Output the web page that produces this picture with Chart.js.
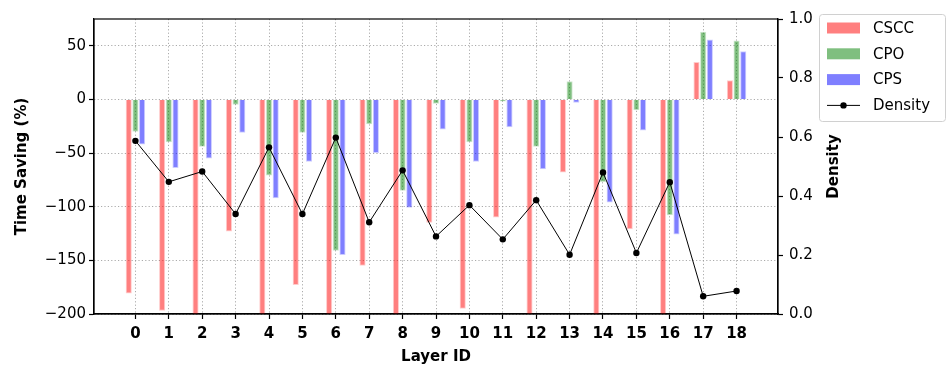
<!DOCTYPE html>
<html lang="en">
<head>
    <meta charset="UTF-8">
    <title>Time Saving per Layer</title>
    <script src="https://cdn.jsdelivr.net/npm/chart.js"></script>
    <style>
        html, body { margin: 0; padding: 0; background: #fff; }
        .chart-container { position: relative; width: 951px; height: 380px; }
    </style>
</head>
<body>
    <div class="chart-container">
        <canvas id="savingChart" width="951" height="380"></canvas>
    </div>

    <script>
        // data (clipped red bars go below -200)
        const layers  = [0, 1, 2, 3, 4, 5, 6, 7, 8, 9, 10, 11, 12, 13, 14, 15, 16, 17, 18];
        const cscc    = [-181, -197, -215, -123, -215, -173, -215, -155, -215, -115, -195, -110, -215, -68, -215, -121, -215, 35, 18];
        const cpo     = [-30, -40, -44, -5, -71, -31, -141, -23, -85, -4, -40, -2, -44, 17, -77, -10, -108, 63, 55];
        const cps     = [-42, -64, -55, -31, -92, -58, -145, -50, -101, -28, -58, -26, -65, -3, -96, -29, -126, 56, 45];
        const density = [0.587, 0.448, 0.483, 0.339, 0.565, 0.339, 0.598, 0.311, 0.487, 0.263, 0.369, 0.253, 0.386, 0.201, 0.480, 0.207, 0.447, 0.060, 0.078];

        const leftTicks  = [-200, -150, -100, -50, 0, 50];
        const rightTicks = [0, 0.2, 0.4, 0.6, 0.8, 1.0];

        const FONT = "'DejaVu Sans', sans-serif";
        const gridColor = 'rgba(150,150,150,0.8)';

        const pts = arr => layers.map((l, i) => ({ x: l, y: arr[i] }));
        const minus = s => String(s).replace('-', '\u2212');

        // full box around the plot, right axis title (reads bottom-up like matplotlib) and legend
        const frameAndLegend = {
            id: 'frameAndLegend',
            afterDraw(chart) {
                const ctx = chart.ctx;
                const a = chart.chartArea;
                ctx.save();
                ctx.strokeStyle = '#000';
                ctx.lineWidth = 1.2;
                ctx.strokeRect(a.left, a.top, a.right - a.left, a.bottom - a.top);

                // right axis title
                ctx.save();
                ctx.translate(834, (a.top + a.bottom) / 2);
                ctx.rotate(-Math.PI / 2);
                ctx.font = 'bold 15px ' + FONT;
                ctx.textAlign = 'center';
                ctx.textBaseline = 'middle';
                ctx.fillStyle = '#000';
                ctx.fillText('Density', 0, 0);
                ctx.restore();

                // legend box
                const bx = 819, by = 14, bw = 126, bh = 107;
                ctx.fillStyle = 'rgba(255,255,255,0.8)';
                ctx.strokeStyle = '#d0d0d0';
                ctx.lineWidth = 1;
                ctx.beginPath();
                ctx.roundRect(bx + 0.5, by + 0.5, bw, bh, 3);
                ctx.fill();
                ctx.stroke();

                ctx.font = '15px ' + FONT;
                ctx.textBaseline = 'middle';
                ctx.textAlign = 'left';
                chart.data.datasets.forEach((ds, i) => {
                    const rowY = 28 + i * 25.8;
                    if (ds.type === 'line') {
                        ctx.strokeStyle = '#000';
                        ctx.lineWidth = 1;
                        ctx.beginPath();
                        ctx.moveTo(827, rowY);
                        ctx.lineTo(860, rowY);
                        ctx.stroke();
                        ctx.fillStyle = '#000';
                        ctx.beginPath();
                        ctx.arc(843.5, rowY, 3.2, 0, Math.PI * 2);
                        ctx.fill();
                    } else {
                        ctx.fillStyle = ds.backgroundColor;
                        ctx.fillRect(827, rowY - 5.5, 33, 11);
                    }
                    ctx.fillStyle = '#000';
                    ctx.fillText(ds.label, 873, rowY + 1);
                });
                ctx.restore();
            }
        };

        const barCommon = {
            type: 'bar',
            yAxisID: 'y',
            order: 1,
            borderWidth: 1,
            categoryPercentage: 0.6,
            barPercentage: 0.92
        };

        const ctx = document.getElementById('savingChart').getContext('2d');
        new Chart(ctx, {
            type: 'bar',
            data: {
                datasets: [
                    Object.assign({}, barCommon, {
                        label: 'CSCC',
                        data: pts(cscc),
                        backgroundColor: 'rgba(255,0,0,0.5)',
                        borderColor: 'rgba(255,0,0,0.2)'
                    }),
                    Object.assign({}, barCommon, {
                        label: 'CPO',
                        data: pts(cpo),
                        backgroundColor: 'rgba(0,128,0,0.5)',
                        borderColor: 'rgba(0,128,0,0.2)'
                    }),
                    Object.assign({}, barCommon, {
                        label: 'CPS',
                        data: pts(cps),
                        backgroundColor: 'rgba(0,0,255,0.5)',
                        borderColor: 'rgba(0,0,255,0.2)'
                    }),
                    {
                        type: 'line',
                        label: 'Density',
                        data: pts(density),
                        yAxisID: 'y1',
                        order: 0,
                        borderColor: '#000',
                        backgroundColor: '#000',
                        borderWidth: 1,
                        pointRadius: 3.2,
                        pointBackgroundColor: '#000',
                        pointBorderWidth: 0,
                        tension: 0,
                        fill: false
                    }
                ]
            },
            options: {
                responsive: false,
                animation: false,
                layout: { padding: { left: 9, right: 104, top: 19, bottom: 11 } },
                plugins: {
                    legend: { display: false },
                    tooltip: { enabled: false }
                },
                scales: {
                    x: {
                        type: 'linear',
                        offset: false,
                        min: -1.24,
                        max: 19.24,
                        afterBuildTicks: axis => {
                            axis.ticks = layers.map(v => ({ value: v }));
                        },
                        afterFit: axis => { axis.height = 55; },
                        ticks: {
                            autoSkip: false,
                            maxRotation: 0,
                            padding: 6,
                            color: '#000',
                            font: { family: FONT, size: 15, weight: 'bold' },
                            callback: v => String(v)
                        },
                        grid: {
                            offset: false,
                            color: gridColor,
                            lineWidth: 1,
                            tickLength: 5,
                            tickColor: '#000',
                            tickWidth: 1.2,
                            tickBorderDash: []
                        },
                        border: { color: '#000', width: 1.2, dash: [1.2, 2.2] },
                        title: {
                            display: true,
                            text: 'Layer ID',
                            color: '#000',
                            font: { family: FONT, size: 15, weight: 'bold' },
                            padding: { top: 4, bottom: 3 }
                        }
                    },
                    y: {
                        position: 'left',
                        min: -200,
                        max: 75,
                        afterBuildTicks: axis => {
                            axis.ticks = leftTicks.map(v => ({ value: v }));
                        },
                        afterFit: axis => { axis.width = 85; },
                        ticks: {
                            padding: 3,
                            color: '#000',
                            font: { family: FONT, size: 15 },
                            callback: v => minus(v)
                        },
                        grid: {
                            color: gridColor,
                            lineWidth: 1,
                            tickLength: 5,
                            tickColor: '#000',
                            tickWidth: 1.2,
                            tickBorderDash: []
                        },
                        border: { color: '#000', width: 1.2, dash: [1.2, 2.2] },
                        title: {
                            display: true,
                            text: 'Time Saving (%)',
                            color: '#000',
                            font: { family: FONT, size: 15, weight: 'bold' },
                            padding: { top: 4, bottom: 4 }
                        }
                    },
                    y1: {
                        position: 'right',
                        min: 0,
                        max: 1,
                        afterBuildTicks: axis => {
                            axis.ticks = rightTicks.map(v => ({ value: v }));
                        },
                        afterFit: axis => { axis.width = 69; },
                        ticks: {
                            padding: 6,
                            color: '#000',
                            font: { family: FONT, size: 15 },
                            callback: v => v.toFixed(1)
                        },
                        grid: {
                            drawOnChartArea: false,
                            tickLength: 5,
                            tickColor: '#000',
                            tickWidth: 1.2
                        },
                        border: { color: '#000', width: 1.2 },
                        title: { display: false }
                    }
                }
            },
            plugins: [frameAndLegend]
        });
    </script>
</body>
</html>
